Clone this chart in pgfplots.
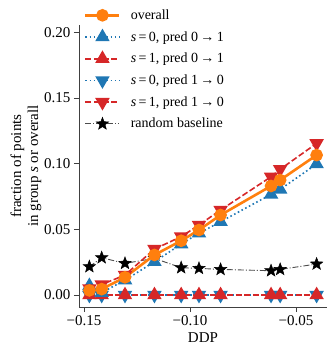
\documentclass[border=0pt]{standalone}
\usepackage{fontspec}
\setmainfont{Liberation Serif}
\usepackage{pgfplots}
\pgfplotsset{compat=1.18}

\definecolor{tabblue}{HTML}{1F77B4}
\definecolor{taborange}{HTML}{FF7F0E}
\definecolor{tabred}{HTML}{D62728}

% filled five-pointed star
\pgfdeclareplotmark{fstar}{%
  \pgfpathmoveto{\pgfpointpolar{90}{\pgfplotmarksize}}%
  \pgfpathlineto{\pgfpointpolar{126}{0.42\pgfplotmarksize}}%
  \pgfpathlineto{\pgfpointpolar{162}{\pgfplotmarksize}}%
  \pgfpathlineto{\pgfpointpolar{198}{0.42\pgfplotmarksize}}%
  \pgfpathlineto{\pgfpointpolar{234}{\pgfplotmarksize}}%
  \pgfpathlineto{\pgfpointpolar{270}{0.42\pgfplotmarksize}}%
  \pgfpathlineto{\pgfpointpolar{306}{\pgfplotmarksize}}%
  \pgfpathlineto{\pgfpointpolar{342}{0.42\pgfplotmarksize}}%
  \pgfpathlineto{\pgfpointpolar{18}{\pgfplotmarksize}}%
  \pgfpathlineto{\pgfpointpolar{54}{0.42\pgfplotmarksize}}%
  \pgfpathclose
  \pgfusepathqfillstroke
}

% DDP, overall, s0 0->1, s1 1->0, random baseline
\pgfplotstableread{
x        overall  up0     down1   rnd
-0.1475  0.0035   0.0070  0.0050  0.0216
-0.1417  0.0045   0.0018  0.0080  0.0284
-0.1307  0.0135   0.0114  0.0152  0.0241
-0.1168  0.0305   0.0253  0.0350  0.0279
-0.1042  0.0413   0.0388  0.0444  0.0208
-0.0958  0.0495   0.0470  0.0533  0.0203
-0.0856  0.0609   0.0558  0.0647  0.0195
-0.0618  0.0830   0.0766  0.0900  0.0185
-0.0575  0.0875   0.0804  0.0957  0.0195
-0.0403  0.1065   0.0997  0.1154  0.0236
}\ddp

\pgfplotsset{
  blueline/.style={tabblue, line width=1.6pt, dash pattern=on 1.6pt off 2.6pt},
  redline/.style={tabred, line width=1.6pt, dash pattern=on 6pt off 2.6pt},
  upmark/.style={mark=triangle*, mark size=6.8pt, mark options={solid, fill=#1, draw=#1}},
  downmark/.style={mark=triangle*, mark size=6.8pt, mark options={solid, rotate=180, fill=#1, draw=#1}},
  baseline/.style={black!70, line width=0.9pt, dash pattern=on 6pt off 2pt on 1pt off 2pt,
                   mark=fstar, mark size=6.5pt, mark options={solid, black, fill=black, line width=0.5pt}},
}

\begin{document}
\begin{tikzpicture}
\begin{axis}[
    scale only axis,
    width=248pt, height=282pt,
    xmin=-0.1524, xmax=-0.0354,
    ymin=-0.0091, ymax=0.2055,
    axis x line*=bottom, axis y line*=left,
    axis line style={-, black!75, line width=0.8pt},
    tick align=outside,
    major tick length=5pt,
    tick style={black!75, line width=0.8pt},
    xtick={-0.15,-0.10,-0.05},
    xticklabels={−0.15,−0.10,−0.05},
    ytick={0,0.05,0.10,0.15,0.20},
    yticklabels={0.00,0.05,0.10,0.15,0.20},
    ticklabel style={font=\fontsize{15}{18}\selectfont},
    xlabel={DDP},
    ylabel={fraction of points\\in group \textit{s} or overall},
    label style={font=\fontsize{15}{17}\selectfont},
    ylabel style={align=center},
    ylabel shift=-4pt,
    legend cell align=left,
    legend style={at={(axis description cs:0.02,1.062)}, anchor=north west,
                  draw=none, fill=none, font=\fontsize{14}{16}\selectfont,
                  row sep=6.5pt, inner sep=0pt},
    legend image code/.code={
      \draw[mark repeat=2, mark phase=2, #1]
        plot coordinates {(0pt,0pt) (17pt,0pt) (34pt,0pt)};
      \path (42pt,0pt);},
]
% legend entries
\addlegendimage{taborange, line width=2.6pt, mark=*, mark size=5pt, mark options={solid, fill=taborange}}
\addlegendentry{overall}
\addlegendimage{blueline, upmark=tabblue}
\addlegendentry{\textit{s}\,=\,0, pred 0\,→\,1}
\addlegendimage{redline, upmark=tabred}
\addlegendentry{\textit{s}\,=\,1, pred 0\,→\,1}
\addlegendimage{blueline, downmark=tabblue}
\addlegendentry{\textit{s}\,=\,0, pred 1\,→\,0}
\addlegendimage{redline, downmark=tabred}
\addlegendentry{\textit{s}\,=\,1, pred 1\,→\,0}
\addlegendimage{baseline}
\addlegendentry{random baseline}

% data
\addplot[forget plot, baseline] table[x=x, y=rnd] {\ddp};
\addplot[forget plot, blueline, downmark=tabblue] coordinates {
(-0.1475,0) (-0.1417,0) (-0.1307,0) (-0.1168,0) (-0.1042,0)
(-0.0958,0) (-0.0856,0) (-0.0618,0) (-0.0575,0) (-0.0403,0)};
\addplot[forget plot, redline, upmark=tabred] coordinates {
(-0.1475,0) (-0.1417,0) (-0.1307,0) (-0.1168,0) (-0.1042,0)
(-0.0958,0) (-0.0856,0) (-0.0618,0) (-0.0575,0) (-0.0403,0)};
\addplot[forget plot, blueline, upmark=tabblue] table[x=x, y=up0] {\ddp};
\addplot[forget plot, redline, downmark=tabred] table[x=x, y=down1] {\ddp};
\addplot[forget plot, taborange, line width=2.6pt, mark=*, mark size=5pt, mark options={solid, fill=taborange}] table[x=x, y=overall] {\ddp};
\end{axis}
% keep the page the size of the reference around the axis box
\path (current axis.south west) ++(-79pt,-45pt);
\path (current axis.south west) ++(253pt,307pt);
\end{tikzpicture}
\end{document}
